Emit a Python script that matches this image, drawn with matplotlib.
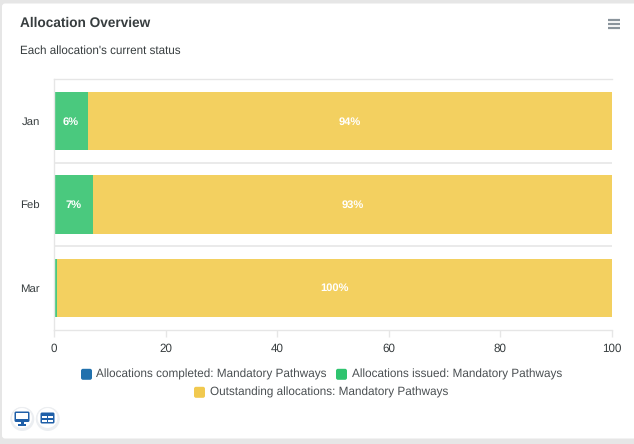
import matplotlib
matplotlib.use("Agg")
import matplotlib.pyplot as plt
from matplotlib.patches import Rectangle, FancyBboxPatch, Circle

plt.rcParams['font.family'] = ['Liberation Sans', 'DejaVu Sans']
plt.rcParams['text.hinting'] = 'none'
plt.rcParams['text.hinting_factor'] = 8

months = ["Jan", "Feb", "Mar"]
completed = [0, 0, 0]
issued = [6.1, 7.0, 0.5]
outstanding = [93.9, 93.0, 99.5]
labels_issued = ["6%", "7%", ""]
labels_outstanding = ["94%", "93%", "100%"]
series_names = ["Allocations completed: Mandatory Pathways",
                "Allocations issued: Mandatory Pathways",
                "Outstanding allocations: Mandatory Pathways"]
colors = ["#2171ad", "#4ac97e", "#f3d060"]
x_ticks = [0, 20, 40, 60, 80, 100]

W, H = 634, 444
fig = plt.figure(figsize=(W / 100, H / 100), dpi=100, facecolor="#e6e6e6")
bg = fig.add_axes([0, 0, 1, 1], zorder=0)
bg.set_xlim(0, W); bg.set_ylim(H, 0); bg.axis("off")
bg.add_patch(FancyBboxPatch((2, 3.5), 640, 435, boxstyle="round,pad=0,rounding_size=3",
                            fc="white", ec="none"))

L, R, T, B = 54, 612, 79.5, 329.5
ax = fig.add_axes([L / W, 1 - B / H, (R - L) / W, (B - T) / H], zorder=1)
ax.patch.set_alpha(0)
y = range(len(months))
h = 0.70
ax.barh(y, completed, height=h, color=colors[0])
ax.barh(y, issued, left=completed, height=h, color=colors[1])
left = [a + b for a, b in zip(completed, issued)]
ax.barh(y, outstanding, left=left, height=h, color=colors[2])
ax.set_xlim(0, 100)
ax.set_ylim(2.5, -0.5)
ax.set_yticks(list(y), months)
ax.set_xticks(x_ticks)
ax.set_yticks([0.5, 1.5], minor=True)
ax.grid(True, axis="y", which="minor", color="#e6e6e6", lw=1.2)
ax.set_axisbelow(True)
ax.spines["right"].set_visible(False)
for s in ["top", "bottom", "left"]:
    ax.spines[s].set_color("#e6e6e6")
    ax.spines[s].set_linewidth(1.0)
ax.tick_params(axis="y", which="both", length=0)
ax.tick_params(axis="y", which="major", labelsize=8.2, labelcolor="#373d3f", pad=10)
ax.tick_params(axis="x", length=5, width=1, color="#e6e6e6", labelsize=8.4,
               labelcolor="#373d3f", pad=5)
for i in y:
    if labels_issued[i]:
        ax.text(completed[i] + issued[i] / 2, i + 0.008, labels_issued[i], color="white",
                fontsize=8, fontweight="bold", ha="center", va="center")
    ax.text(left[i] + outstanding[i] / 2, i + 0.008, labels_outstanding[i], color="white",
            fontsize=8, fontweight="bold", ha="center", va="center")

bg.text(19.5, 23.5, "Allocation Overview", fontsize=9.8, fontweight="bold",
        color="#373d3f", ha="left", va="center")
bg.text(19.5, 51, "Each allocation's current status", fontsize=8.4,
        color="#373d3f", ha="left", va="center")

# hamburger menu
for yy in (20, 24, 28):
    bg.plot([607.5, 620], [yy, yy], color="#8a949c", lw=1.6, solid_capstyle="butt")

# legend
def leg(x, yy, c, s):
    bg.add_patch(FancyBboxPatch((x, yy - 5.5), 11, 11, boxstyle="round,pad=0,rounding_size=2",
                                fc=c, ec="none"))
    bg.text(x + 15.5, yy, s, fontsize=8.48, color="#4a4f52", ha="left", va="center")
leg(81, 374.3, colors[0], series_names[0])
leg(336, 374.3, "#2fc46f", series_names[1])
leg(194, 392.3, "#f1c94f", series_names[2])

# round buttons
for cx, kind in ((22, "mon"), (47.5, "tab")):
    bg.add_patch(Circle((cx + 0.3, 419), 12, fc="#dfe3e8", ec="none", alpha=0.6))
    bg.add_patch(Circle((cx, 418), 10.5, fc="white", ec="#eceef1", lw=0.8))
    if kind == "mon":
        bg.add_patch(FancyBboxPatch((cx - 7.5, 411.5), 15, 10.5, boxstyle="round,pad=0,rounding_size=1.5",
                                    fc="#1f5fa8", ec="none"))
        bg.add_patch(Rectangle((cx - 5.7, 413.3), 11.4, 6, fc="white", ec="none"))
        bg.add_patch(Rectangle((cx - 1.5, 422), 3, 2, fc="#1f5fa8", ec="none"))
        bg.add_patch(Rectangle((cx - 4, 424), 8, 1.5, fc="#1f5fa8", ec="none"))
    else:
        bg.add_patch(FancyBboxPatch((cx - 7, 412.5), 14, 11, boxstyle="round,pad=0,rounding_size=1.5",
                                    fc="#1f5fa8", ec="none"))
        for dx in (-5.3, 0.7):
            for dy in (415.5, 419.5):
                bg.add_patch(Rectangle((cx + dx, dy), 4.6, 2.6, fc="white", ec="none"))

fig.savefig("out.png", dpi=100, facecolor=fig.get_facecolor())
